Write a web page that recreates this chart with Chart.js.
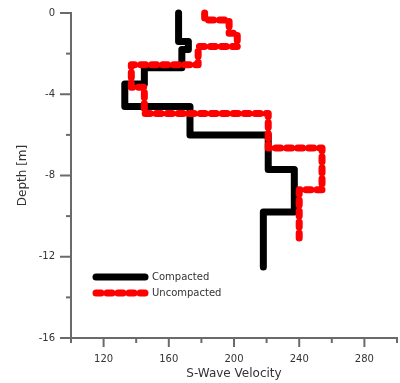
<!DOCTYPE html>
<html>
<head>
<meta charset="utf-8">
<script src="https://cdn.jsdelivr.net/npm/chart.js@4.4.1/dist/chart.umd.min.js"></script>
<style>
html,body{margin:0;padding:0;background:#fff;}
#wrap{width:400px;height:383px;}
</style>
</head>
<body>
<div id="wrap"><canvas id="c" width="400" height="383"></canvas></div>
<script>
// Data: velocities per layer and layer boundaries (depth, m)
const seriesNames = ['Compacted', 'Uncompacted'];
const compactedVs = [166, 172, 168, 145, 133, 173, 221, 237, 218];
const compactedDepths = [0, -1.4, -1.8, -2.7, -3.5, -4.6, -6.0, -7.7, -9.8, -12.5];
const uncompactedVs = [182, 197, 202, 178, 137, 145, 221, 254, 240];
const uncompactedDepths = [0, -0.35, -1.0, -1.65, -2.55, -3.65, -4.95, -6.65, -8.7, -11.3];
const xTickLabels = [120, 160, 200, 240, 280];
const yTickLabels = [0, -4, -8, -12, -16];

function stepPoints(vs, depths) {
  const pts = [];
  for (let i = 0; i < vs.length; i++) {
    pts.push({x: vs[i], y: depths[i]});
    pts.push({x: vs[i], y: depths[i + 1]});
  }
  return pts;
}

const axisColor = '#6a6a6a';
const textColor = '#333';
Chart.defaults.font.family = "'DejaVu Sans', Verdana, sans-serif";
Chart.defaults.font.size = 10;
Chart.defaults.color = textColor;

const tickPlugin = {
  id: 'customTicks',
  afterDraw(chart) {
    const ctx = chart.ctx;
    const xs = chart.scales.x, ys = chart.scales.y;
    ctx.save();
    ctx.strokeStyle = axisColor;
    ctx.lineWidth = 2;
    xs.ticks.forEach(t => {
      const px = xs.getPixelForValue(t.value);
      const len = xTickLabels.includes(t.value) ? 9 : 5;
      ctx.beginPath(); ctx.moveTo(px, xs.top); ctx.lineTo(px, xs.top + len); ctx.stroke();
    });
    ys.ticks.forEach(t => {
      const py = ys.getPixelForValue(t.value);
      const len = yTickLabels.includes(t.value) ? 11 : 5;
      ctx.beginPath(); ctx.moveTo(ys.right, py); ctx.lineTo(ys.right - len, py); ctx.stroke();
    });
    ctx.restore();
  }
};

const legendPlugin = {
  id: 'insideLegend',
  afterDraw(chart) {
    const ctx = chart.ctx;
    const a = chart.chartArea;
    ctx.save();
    chart.data.datasets.forEach((ds, i) => {
      const y = a.bottom - 61 + i * 16;
      const x0 = a.left + 25, x1 = a.left + 74;
      ctx.strokeStyle = ds.borderColor;
      ctx.lineWidth = ds.borderWidth;
      ctx.lineCap = 'round';
      ctx.setLineDash(ds.borderDash || []);
      ctx.beginPath(); ctx.moveTo(x0, y); ctx.lineTo(x1, y); ctx.stroke();
      ctx.setLineDash([]);
      ctx.fillStyle = textColor;
      ctx.font = "10px 'DejaVu Sans'";
      ctx.textBaseline = 'middle';
      ctx.textAlign = 'left';
      ctx.fillText(ds.label, a.left + 81, y);
    });
    ctx.restore();
  }
};

new Chart(document.getElementById('c'), {
  type: 'scatter',
  data: {
    datasets: [
      {
        label: seriesNames[0],
        data: stepPoints(compactedVs, compactedDepths),
        showLine: true,
        borderColor: '#000000',
        backgroundColor: '#000000',
        borderWidth: 7,
        borderCapStyle: 'round',
        borderJoinStyle: 'round',
        pointRadius: 0,
        pointHoverRadius: 0,
        clip: false,
        order: 2
      },
      {
        label: seriesNames[1],
        data: stepPoints(uncompactedVs, uncompactedDepths),
        showLine: true,
        borderColor: '#ff0000',
        backgroundColor: '#ff0000',
        borderWidth: 7,
        borderDash: [5, 6],
        borderCapStyle: 'round',
        borderJoinStyle: 'round',
        pointRadius: 0,
        pointHoverRadius: 0,
        clip: false,
        order: 1
      }
    ]
  },
  options: {
    responsive: false,
    animation: false,
    events: [],
    layout: {padding: {left: 0, right: 3, top: 13, bottom: 0}},
    plugins: {legend: {display: false}, tooltip: {enabled: false}},
    scales: {
      x: {
        type: 'linear',
        min: 100, max: 300,
        grid: {display: false, drawTicks: false},
        border: {display: true, color: axisColor, width: 2},
        ticks: {
          stepSize: 20,
          padding: 15,
          maxRotation: 0,
          autoSkip: false,
          font: {size: 10},
          callback: v => xTickLabels.includes(v) ? String(v) : ''
        },
        title: {display: true, text: 'S-Wave Velocity', font: {size: 12}, color: textColor, padding: {top: 0, bottom: 2}},
        afterFit: s => { s.height = 45; s.paddingLeft = 0; s.paddingRight = 0; }
      },
      y: {
        type: 'linear',
        min: -16, max: 0,
        grid: {display: false, drawTicks: false},
        border: {display: true, color: axisColor, width: 2},
        ticks: {
          stepSize: 2,
          padding: 16,
          autoSkip: false,
          font: {size: 10},
          callback: v => yTickLabels.includes(v) ? String(v) : ''
        },
        title: {display: true, text: 'Depth [m]', font: {size: 12}, color: textColor, padding: {top: 16, bottom: 0}},
        afterFit: s => { s.width = 71; s.paddingTop = 0; s.paddingBottom = 0; }
      }
    }
  },
  plugins: [tickPlugin, legendPlugin]
});
</script>
</body>
</html>
